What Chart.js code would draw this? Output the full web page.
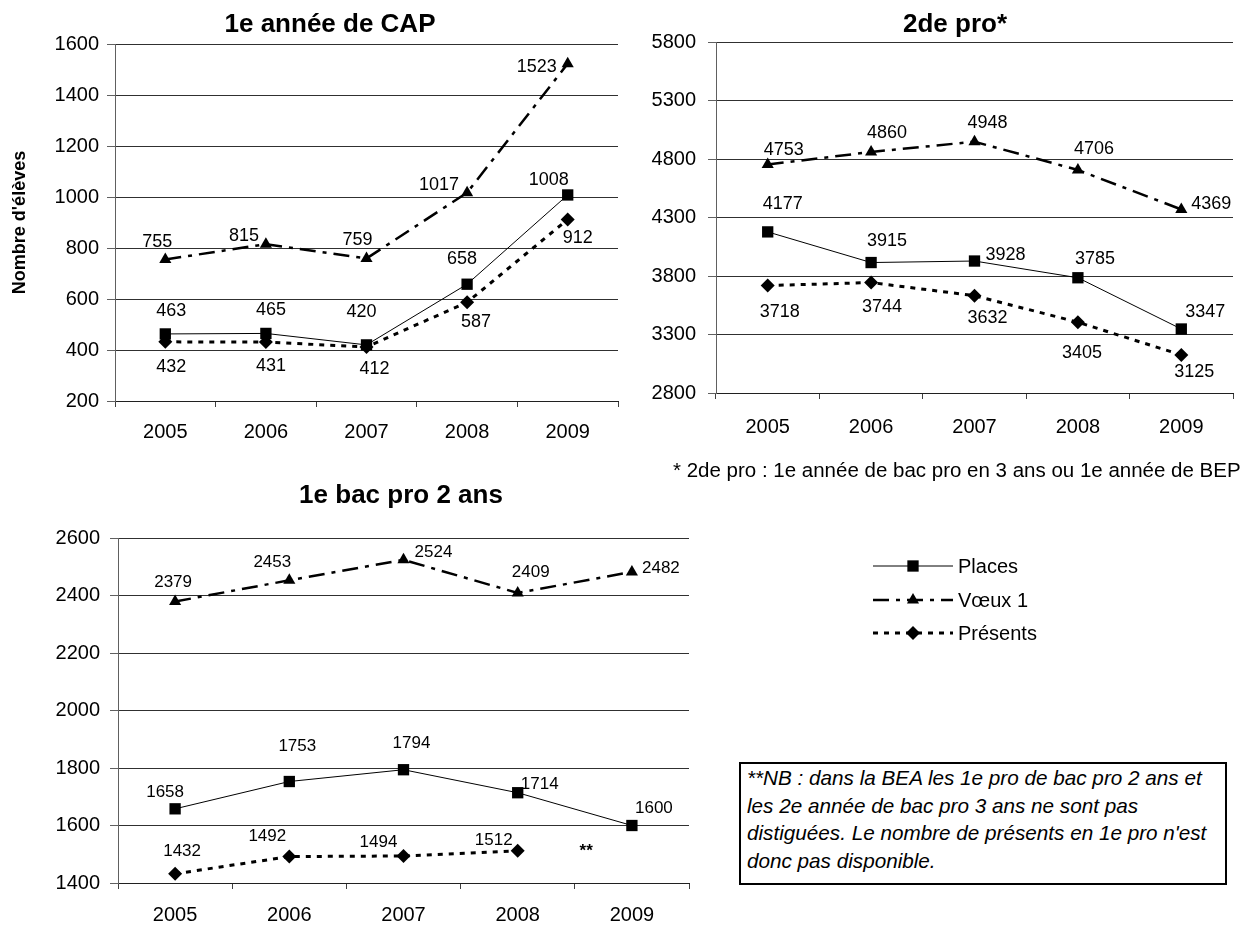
<!DOCTYPE html>
<html>
<head>
<meta charset="utf-8">
<script src="https://cdn.jsdelivr.net/npm/chart.js@4.4.0/dist/chart.umd.min.js"></script>
<style>
  body { margin: 0; background: #fff; width: 1243px; height: 925px; position: relative; overflow: hidden;
         font-family: "Liberation Sans", Arial, sans-serif; color: #000; }
  canvas { position: absolute; }
  .title { position: absolute; font-weight: bold; font-size: 26px; transform: translate(-50%, -50%); white-space: nowrap; }
  .legtxt { position: absolute; font-size: 20px; transform: translateY(-50%); white-space: nowrap; }
  .foot { position: absolute; left: 673px; top: 470px; font-size: 20.5px; transform: translateY(-50%); white-space: nowrap; }
  .note { position: absolute; left: 739px; top: 762px; width: 478px; height: 119px; border: 2px solid #000;
          font-size: 20.7px; font-style: italic; line-height: 27.5px; padding: 0 0 0 6px; white-space: nowrap; }
</style>
</head>
<body>
<canvas id="c1" width="630" height="460" style="left:0;top:0"></canvas>
<canvas id="c2" width="623" height="460" style="left:620px;top:0"></canvas>
<canvas id="c3" width="700" height="455" style="left:0;top:470px"></canvas>
<canvas id="leg" width="100" height="110" style="left:860px;top:545px"></canvas>

<div class="title" style="left:330px;top:23px">1e année de CAP</div>
<div class="title" style="left:955px;top:23px">2de pro*</div>
<div class="title" style="left:401px;top:494px">1e bac pro 2 ans</div>

<div class="legtxt" style="left:958px;top:566px">Places</div>
<div class="legtxt" style="left:958px;top:600px">Vœux 1</div>
<div class="legtxt" style="left:958px;top:633px">Présents</div>

<div class="foot">* 2de pro : 1e année de bac pro en 3 ans ou 1e année de BEP</div>
<div class="note">**NB : dans la BEA les 1e pro de bac pro 2 ans et<br>les 2e année de bac pro 3 ans ne sont pas<br>distiguées. Le nombre de présents en 1e pro n'est<br>donc pas disponible.</div>

<script>
// Data
const years = ['2005', '2006', '2007', '2008', '2009'];
const seriesNames = ['Places', 'Vœux 1', 'Présents'];

const capPlaces = [463, 465, 420, 658, 1008];
const capVoeux = [755, 815, 759, 1017, 1523];
const capPresents = [432, 431, 412, 587, 912];
const capTicks = [200, 400, 600, 800, 1000, 1200, 1400, 1600];

const proPlaces = [4177, 3915, 3928, 3785, 3347];
const proVoeux = [4753, 4860, 4948, 4706, 4369];
const proPresents = [3718, 3744, 3632, 3405, 3125];
const proTicks = [2800, 3300, 3800, 4300, 4800, 5300, 5800];

const bacPlaces = [1658, 1753, 1794, 1714, 1600];
const bacVoeux = [2379, 2453, 2524, 2409, 2482];
const bacPresents = [1432, 1492, 1494, 1512, null]; // not available in 2009 (**)
const bacTicks = [1400, 1600, 1800, 2000, 2200, 2400, 2600];

// Line styles, same order as seriesNames
const styles = [
    { borderWidth: 1, borderDash: [], pointStyle: 'rect', pointRadius: 8 },
    { borderWidth: 2.5, borderDash: [16, 7, 4, 7], pointStyle: 'triangle', pointRadius: 7 },
    { borderWidth: 3, borderDash: [5, 6], pointStyle: 'rectRot', pointRadius: 7 }
];

// Value label nudges (px) per series, like the hand-placed labels of the original
const capNudge = [
    { dx: [6, 5, -5, -5, -19], dy: [-23, -23, -33, -25, -15] },
    { dx: [-8, -22, -9, -28, -31], dy: [-17, -8, -18, -8, 3] },
    { dx: [6, 5, 8, 9, 10], dy: [25, 24, 22, 20, 19] }
];
const proNudge = [
    { dx: [15, 16, 31, 17, 24], dy: [-28, -22, -6, -19, -17] },
    { dx: [16, 16, 13, 16, 30], dy: [-14, -19, -19, -21, -5] },
    { dx: [12, 11, 13, 4, 13], dy: [26, 24, 22, 31, 17] }
];
const bacNudge = [
    { dx: [-10, 8, 8, 22, 22], dy: [-17, -35, -26, -8, -17] },
    { dx: [-2, -17, 30, 13, 29], dy: [-19, -18, -8, -21, -4] },
    { dx: [7, -22, -25, -24, 0], dy: [-22, -20, -14, -10, 0] }
];

const FONT = "'Liberation Sans', Arial, sans-serif";

// Plugin drawing the value next to each point
const valueLabels = {
    id: 'valueLabels',
    afterDatasetsDraw(chart, args, opts) {
        const ctx = chart.ctx;
        ctx.save();
        ctx.font = opts.size + 'px ' + FONT;
        ctx.fillStyle = '#000';
        ctx.textAlign = 'center';
        ctx.textBaseline = 'middle';
        chart.data.datasets.forEach((ds, i) => {
            chart.getDatasetMeta(i).data.forEach((pt, j) => {
                const v = ds.data[j];
                if (v == null) return;
                ctx.fillText(String(v), pt.x + ds.nudge.dx[j], pt.y + ds.nudge.dy[j]);
            });
        });
        if (opts.mark) {
            const x = chart.scales.x.getPixelForValue(opts.mark.at);
            const y = chart.scales.y.getPixelForValue(opts.mark.value);
            ctx.font = 'bold ' + opts.size + 'px ' + FONT;
            ctx.fillText(opts.mark.text, x, y);
        }
        ctx.restore();
    }
};

function makeChart(id, series, nudges, ticks, area, opts) {
    const canvas = document.getElementById(id);
    const w = canvas.width, h = canvas.height;
    const datasets = series.map((values, i) => ({
        label: seriesNames[i],
        data: values,
        borderColor: '#000',
        backgroundColor: '#000',
        pointBackgroundColor: '#000',
        pointBorderColor: '#000',
        pointBorderWidth: 0,
        borderWidth: styles[i].borderWidth,
        borderDash: styles[i].borderDash,
        pointStyle: styles[i].pointStyle,
        pointRadius: styles[i].pointRadius,
        tension: 0,
        spanGaps: false,
        nudge: nudges[i]
    }));
    return new Chart(canvas, {
        type: 'line',
        data: { labels: years, datasets: datasets },
        options: {
            responsive: false,
            animation: false,
            layout: { padding: { left: 0, top: area.top, right: w - area.right, bottom: 0 } },
            plugins: {
                legend: { display: false },
                tooltip: { enabled: false },
                valueLabels: { size: opts.labelSize, mark: opts.mark }
            },
            scales: {
                x: {
                    offset: true,
                    grid: { offset: true, drawOnChartArea: false, drawTicks: true, tickLength: 6, color: '#404040' },
                    border: { color: '#202020', width: 1 },
                    ticks: { color: '#000', font: { family: FONT, size: 20 }, padding: opts.xPad, maxRotation: 0 },
                    afterFit: s => { s.height = h - area.bottom; }
                },
                y: {
                    min: ticks[0],
                    max: ticks[ticks.length - 1],
                    afterBuildTicks: s => { s.ticks = ticks.map(v => ({ value: v })); },
                    grid: { color: '#303030', lineWidth: 1, tickLength: 8, tickColor: '#606060' },
                    border: { color: '#606060', width: 1 },
                    ticks: { color: '#000', font: { family: FONT, size: 20 }, padding: opts.yPad,
                             callback: v => String(v) },
                    title: opts.yTitle ? {
                        display: true, text: opts.yTitle, color: '#000',
                        font: { family: FONT, size: 18, weight: 'bold' }, padding: { top: 9, bottom: 0 }
                    } : { display: false },
                    afterFit: s => { s.width = area.left; }
                }
            }
        },
        plugins: [valueLabels]
    });
}

makeChart('c1', [capPlaces, capVoeux, capPresents], capNudge, capTicks,
    { left: 115, top: 44, right: 618, bottom: 401 },
    { labelSize: 18, xPad: 13, yPad: 8, yTitle: "Nombre d'élèves" });

makeChart('c2', [proPlaces, proVoeux, proPresents], proNudge, proTicks,
    { left: 96, top: 42, right: 613, bottom: 393 },
    { labelSize: 18, xPad: 16, yPad: 12 });

makeChart('c3', [bacPlaces, bacVoeux, bacPresents], bacNudge, bacTicks,
    { left: 118, top: 68, right: 689, bottom: 413 },
    { labelSize: 17, xPad: 14, yPad: 10, mark: { text: '**', at: 3.6, value: 1510 } });

// Legend samples: line + marker for each series
(function drawLegend() {
    const ctx = document.getElementById('leg').getContext('2d');
    const rows = [21, 55, 88];
    styles.forEach((st, i) => {
        const y = rows[i];
        ctx.save();
        ctx.strokeStyle = '#000';
        ctx.lineWidth = st.borderWidth;
        ctx.setLineDash(st.borderDash);
        ctx.beginPath();
        ctx.moveTo(13, y);
        ctx.lineTo(93, y);
        ctx.stroke();
        ctx.restore();
        ctx.fillStyle = '#000';
        const cx = 53, r = st.pointRadius;
        ctx.beginPath();
        if (st.pointStyle === 'rect') {
            const s = r * Math.SQRT1_2;
            ctx.rect(cx - s, y - s, 2 * s, 2 * s);
        } else if (st.pointStyle === 'triangle') {
            ctx.moveTo(cx, y - r);
            ctx.lineTo(cx + r * 0.866, y + r / 2);
            ctx.lineTo(cx - r * 0.866, y + r / 2);
        } else {
            ctx.moveTo(cx, y - r);
            ctx.lineTo(cx + r, y);
            ctx.lineTo(cx, y + r);
            ctx.lineTo(cx - r, y);
        }
        ctx.closePath();
        ctx.fill();
    });
})();
</script>
</body>
</html>
